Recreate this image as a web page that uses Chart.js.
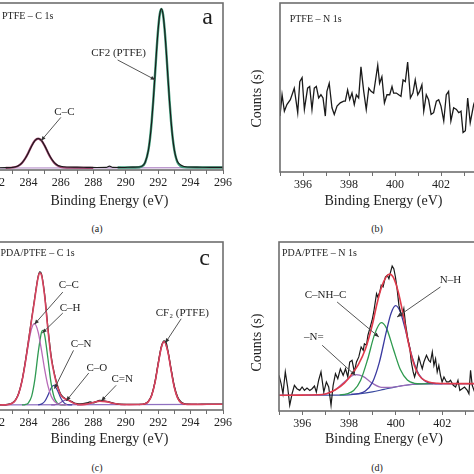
<!DOCTYPE html>
<html>
<head>
<meta charset="utf-8">
<script src="https://cdn.jsdelivr.net/npm/chart.js@4.4.0/dist/chart.umd.min.js"></script>
<style>
  html, body { margin: 0; padding: 0; background: #fff; }
  body { width: 474px; height: 474px; position: relative; overflow: hidden; font-family: 'Liberation Serif', serif; }
  .panel { position: absolute; }
  .cap { position: absolute; font-size: 10px; color: #222; transform: translate(-50%, -50%); }
</style>
</head>
<body>
<div class="panel" style="left:-54px;top:0;width:289px;height:210px"><canvas id="chartA"></canvas></div>
<div class="panel" style="left:249px;top:0;width:250px;height:210px"><canvas id="chartB"></canvas></div>
<div class="panel" style="left:-54px;top:239px;width:289px;height:209px"><canvas id="chartC"></canvas></div>
<div class="panel" style="left:249px;top:239px;width:252px;height:209px"><canvas id="chartD"></canvas></div>
<div class="cap" style="left:97px;top:228px">(a)</div>
<div class="cap" style="left:377px;top:228px">(b)</div>
<div class="cap" style="left:97px;top:467px">(c)</div>
<div class="cap" style="left:377px;top:467px">(d)</div>
<script>
// ── Panel (a): PTFE C 1s  [binding energy eV, counts a.u.] ──
const aSpectrum = [
  [282.0,1.3],[282.6,1.4],[283.0,1.5],[283.2,1.9],[283.4,2.7],[283.6,4.3],[283.8,6.9],[284.0,10.4],
  [284.2,14.4],[284.4,17.6],[284.6,18.9],[284.8,17.7],[285.0,14.6],[285.2,10.6],[285.4,7.0],[285.6,4.4],
  [285.8,2.9],[286.0,2.2],[286.4,1.8],[287.0,1.7],[287.6,1.6],[288.2,1.5],[288.8,1.6],[289.0,2.3],
  [289.2,1.6],[289.8,1.5],[290.4,1.7],[290.8,1.8],[291.0,2.3],[291.2,4.6],[291.4,11.9],[291.5,18.9],
  [291.6,28.8],[291.7,41.5],[291.8,56.1],[291.9,71.1],[292.0,84.2],[292.1,93.3],[292.2,96.5],[292.3,93.3],
  [292.4,84.2],[292.5,71.1],[292.6,56.1],[292.7,41.5],[292.8,28.8],[292.9,18.9],[293.0,11.9],[293.1,7.5],
  [293.2,5.0],[293.4,3.0],[293.6,2.1],[293.8,1.8],[294.4,1.7],[295.2,1.6],[296.0,1.6],
];
const aFitCC = [
  [282.6,1.3],[283.0,1.5],[283.2,1.8],[283.4,2.6],[283.6,4.2],[283.8,6.9],[284.0,10.5],[284.2,14.5],
  [284.4,17.6],[284.6,18.8],[284.8,17.6],[285.0,14.5],[285.2,10.5],[285.4,6.9],[285.6,4.2],[285.8,2.6],
  [286.0,1.8],[286.2,1.5],[286.6,1.35],[288.0,1.3],
];
const aFitCF2 = [
  [289.5,1.5],[290.6,1.5],[291.0,2.2],[291.2,4.5],[291.4,11.9],[291.5,18.9],[291.6,28.8],[291.7,41.5],
  [291.8,56.1],[291.9,71.1],[292.0,84.2],[292.1,93.3],[292.2,96.5],[292.3,93.3],[292.4,84.2],[292.5,71.1],
  [292.6,56.1],[292.7,41.5],[292.8,28.8],[292.9,18.9],[293.0,11.9],[293.1,7.3],[293.2,4.5],[293.4,2.2],
  [293.6,1.7],[294.4,1.5],[296.0,1.5],
];
const aBase = [[282.0,1.2],[296.0,1.4]];

// ── Panel (b): PTFE N 1s ──
const bSpectrum = [
  [395.0,33.1],[395.09,45.7],[395.19,36.0],[395.3,39.9],[395.45,42.8],[395.62,49.6],[395.77,35.1],[395.86,53.5],
  [395.96,55.8],[396.06,37.0],[396.2,49.6],[396.29,50.6],[396.39,37.0],[396.49,49.6],[396.58,50.6],[396.68,43.8],
  [396.78,45.7],[396.87,43.8],[396.97,33.1],[397.04,47.7],[397.14,52.5],[397.26,38.0],[397.36,34.1],[397.48,39.0],
  [397.62,40.9],[397.77,41.9],[397.84,41.9],[397.94,48.6],[398.03,42.8],[398.13,46.7],[398.23,39.9],[398.32,45.7],
  [398.42,43.8],[398.52,62.2],[398.64,47.7],[398.75,37.0],[398.86,49.6],[398.96,47.7],[399.07,46.7],[399.25,63.2],
  [399.33,52.5],[399.43,56.4],[399.54,40.9],[399.65,45.7],[399.77,45.7],[399.87,50.6],[399.94,46.7],[400.06,46.7],
  [400.16,45.7],[400.26,44.8],[400.35,54.5],[400.45,53.5],[400.55,65.1],[400.67,43.8],[400.78,46.7],[400.88,54.5],
  [400.99,45.7],[401.07,47.7],[401.17,51.6],[401.25,36.0],[401.36,45.7],[401.46,42.8],[401.57,34.1],[401.68,35.1],
  [401.8,41.9],[401.9,42.8],[402.0,39.0],[402.12,30.2],[402.23,45.7],[402.33,47.7],[402.43,30.2],[402.55,38.0],
  [402.67,37.0],[402.77,35.1],[402.87,36.0],[402.96,23.4],[403.06,24.4],[403.16,43.8],[403.27,29.2],[403.42,39.9],
  [403.55,45.0],[403.7,35.0],[403.85,42.0],[404.0,38.0],
];

// ── Panel (c): PDA/PTFE C 1s ──
const cSpectrum = [
  [282.0,3.3],[282.4,3.0],[282.8,3.5],[283.0,4.2],[283.2,6.0],[283.4,10.0],[283.6,17.3],[283.8,28.4],
  [284.0,41.2],[284.2,54.5],[284.4,67.5],[284.6,79.6],[284.7,82.3],[284.8,81.2],[285.0,68.8],[285.2,49.2],
  [285.4,32.3],[285.6,21.6],[285.8,14.3],[286.0,9.3],[286.2,7.3],[286.4,6.0],[286.6,5.4],[286.8,4.3],
  [287.0,3.8],[287.2,3.6],[287.6,4.2],[287.8,4.8],[288.0,4.3],[288.4,5.7],[288.8,5.2],[289.2,4.2],
  [289.6,3.5],[290.2,3.4],[290.8,3.3],[291.2,3.9],[291.4,5.3],[291.6,9.0],[291.8,16.6],[292.0,27.8],
  [292.2,38.0],[292.37,41.2],[292.5,40.0],[292.6,35.5],[292.8,24.5],[293.0,14.2],[293.2,7.9],[293.4,4.9],
  [293.6,3.9],[293.8,3.5],[294.4,3.4],[295.0,3.5],[296.0,3.5],
];
const cEnvelope = [
  [282.0,3.0],[282.4,3.05],[282.8,3.3],[283.0,4.0],[283.2,5.8],[283.4,9.8],[283.6,17.1],[283.8,27.8],
  [284.0,40.7],[284.2,53.9],[284.4,66.8],[284.6,79.0],[284.7,81.5],[284.8,80.5],[285.0,67.9],[285.2,48.0],
  [285.4,31.2],[285.6,21.0],[285.8,13.7],[286.0,8.8],[286.2,6.9],[286.4,6.2],[286.6,5.1],[286.8,4.0],
  [287.0,3.4],[287.2,3.2],[287.6,3.5],[288.0,4.45],[288.4,5.3],[288.8,5.0],[289.2,4.0],[289.6,3.4],
  [290.2,3.2],[290.8,3.25],[291.2,3.7],[291.4,5.0],[291.6,8.6],[291.8,16.1],[292.0,27.2],[292.2,37.3],
  [292.37,40.7],[292.6,34.7],[292.8,23.7],[293.0,13.4],[293.2,7.2],[293.4,4.4],[293.6,3.56],[293.8,3.35],
  [294.4,3.35],[295.0,3.4],[296.0,3.4],
];
const cFitCC = [
  [282.4,3.0],[282.8,3.3],[283.0,4.0],[283.2,5.8],[283.4,9.8],[283.6,17.1],[283.8,27.6],[284.0,39.4],
  [284.2,48.6],[284.37,51.4],[284.6,46.4],[284.8,35.9],[285.0,24.2],[285.2,14.5],[285.4,8.3],[285.6,5.1],
  [285.8,3.7],[286.0,3.2],[286.4,3.05],
];
const cFitCH = [
  [283.6,3.0],[283.8,3.2],[284.0,4.3],[284.2,8.3],[284.4,18.4],[284.6,34.0],[284.8,46.1],[284.88,47.4],
  [285.0,44.6],[285.2,30.8],[285.4,15.8],[285.6,7.1],[285.8,3.9],[286.0,3.1],[286.3,3.05],
];
const cFitCN = [
  [284.6,3.05],[284.8,3.5],[285.0,5.05],[285.2,8.7],[285.4,13.1],[285.56,14.7],[285.8,11.5],[286.0,7.0],
  [286.2,4.2],[286.4,3.2],[286.7,3.05],
];
const cFitCO = [
  [285.4,3.05],[285.6,3.1],[285.8,3.6],[286.0,4.5],[286.2,5.65],[286.35,6.0],[286.6,5.1],[286.8,4.0],
  [287.0,3.3],[287.2,3.05],
];
const cFitCeqN = [
  [287.0,3.1],[287.4,3.3],[287.8,4.0],[288.2,5.0],[288.5,5.35],[288.8,5.0],[289.2,4.0],[289.6,3.3],[290.0,3.15],
];
const cFitCF2 = [
  [290.8,3.25],[291.2,3.7],[291.4,5.0],[291.6,8.6],[291.8,16.1],[292.0,27.2],[292.2,37.3],[292.37,40.7],
  [292.6,34.7],[292.8,23.7],[293.0,13.4],[293.2,7.2],[293.4,4.4],[293.6,3.56],[293.8,3.35],[294.4,3.35],
];
const cBase = [[282.0,3.0],[296.0,3.4]];

// ── Panel (d): PDA/PTFE N 1s ──
const dSpectrum = [
  [395.0,21.1],[395.09,16.2],[395.17,10.2],[395.27,23.1],[395.37,14.2],[395.46,3.4],[395.56,10.2],[395.66,15.2],
  [395.77,13.2],[395.89,12.2],[395.99,14.2],[396.09,12.2],[396.2,13.6],[396.32,12.2],[396.42,13.2],[396.52,14.8],
  [396.6,11.2],[396.7,18.2],[396.8,23.1],[396.92,11.2],[397.03,17.2],[397.13,14.2],[397.23,3.4],[397.32,15.2],
  [397.42,22.1],[397.52,19.1],[397.63,25.0],[397.75,21.1],[397.85,25.0],[397.95,20.1],[398.03,29.0],[398.13,30.0],
  [398.23,23.1],[398.32,29.0],[398.42,32.0],[398.52,37.9],[398.61,35.9],[398.66,39.8],[398.75,38.9],[398.81,44.8],
  [398.89,48.7],[398.99,53.7],[399.06,58.6],[399.18,69.4],[399.23,67.5],[399.32,70.4],[399.38,74.4],[399.46,73.4],
  [399.56,79.3],[399.64,80.3],[399.71,78.3],[399.78,82.2],[399.85,85.8],[399.92,84.2],[399.99,79.3],[400.06,72.4],
  [400.14,62.5],[400.21,58.6],[400.28,56.6],[400.35,60.5],[400.42,51.7],[400.52,42.8],[400.61,36.9],[400.67,29.0],
  [400.75,23.1],[400.81,20.1],[400.89,24.1],[400.99,32.0],[401.07,28.0],[401.14,25.0],[401.21,29.0],[401.32,33.0],
  [401.42,30.0],[401.49,29.0],[401.57,34.9],[401.64,27.0],[401.71,30.9],[401.78,23.1],[401.85,27.0],[401.92,21.1],
  [401.99,17.2],[402.07,20.1],[402.18,17.2],[402.28,17.2],[402.35,18.2],[402.47,15.2],[402.57,14.2],[402.67,18.2],
  [402.75,12.2],[402.85,13.2],[402.95,14.2],[403.07,12.2],[403.14,10.2],[403.21,24.1],[403.28,15.2],[403.36,12.2],
  [403.5,16.0],[403.7,12.0],[403.9,14.0],[404.0,15.0],
];
const dEnvelope = [
  [395.0,9.3],[396.0,9.4],[396.6,9.6],[397.0,10.1],[397.4,12.4],[397.8,16.5],[398.1,21.5],[398.4,27.5],
  [398.7,36.5],[399.0,51.0],[399.2,63.5],[399.4,73.5],[399.6,79.5],[399.75,81.0],[399.9,79.0],[400.1,71.0],
  [400.3,58.5],[400.5,43.5],[400.7,31.5],[400.9,23.5],[401.1,19.5],[401.4,17.2],[401.8,16.4],[402.5,16.2],[404.0,16.2],
];
const dFitNimine = [
  [395.0,9.3],[396.6,9.5],[397.0,10.1],[397.4,12.4],[397.8,17.2],[398.1,20.6],[398.3,21.5],[398.6,20.5],
  [399.0,16.4],[399.4,14.0],[399.8,14.0],[400.4,15.2],[401.0,16.0],[404.0,16.2],
];
const dFitCNHC = [
  [397.6,9.5],[397.9,10.1],[398.2,12.1],[398.5,18.2],[398.8,30.6],[399.1,45.5],[399.38,52.3],[399.6,49.2],
  [399.9,36.7],[400.2,24.5],[400.5,18.3],[400.8,16.4],[401.1,16.1],[401.6,16.2],
];
const dFitNH = [
  [398.1,9.9],[398.4,10.3],[398.7,11.8],[399.0,16.8],[399.3,28.8],[399.6,47.0],[399.8,57.7],[400.0,62.3],
  [400.2,58.6],[400.4,49.0],[400.7,32.3],[401.0,21.5],[401.3,17.3],[401.6,16.4],[402.0,16.2],
];
const dBase = [
  [395.0,9.3],[397.5,9.4],[398.0,9.6],[398.5,10.2],[399.0,11.3],[399.5,12.8],[400.0,14.3],[400.5,15.4],
  [401.0,16.0],[401.5,16.2],[404.0,16.2],
];

// ── Labels: text, anchor [eV, counts], optional leader line ──
const aNotes = [
  { text: 'PTFE – C 1s', at: [282.37, 92.2], align: 'left', size: 10 },
  { text: 'a', at: [295.05, 91], size: 24 },
  { text: 'CF2 (PTFE)', at: [289.56, 70], from: [289.5, 65.9], to: [291.82, 54] },
  { text: 'C–C', at: [286.22, 34.9], from: [286.0, 31.5], to: [284.78, 17.5] },
];
const bNotes = [
  { text: 'PTFE – N 1s', at: [395.42, 90.3], align: 'left', size: 10 },
];
const cNotes = [
  { text: 'PDA/PTFE – C 1s', at: [282.28, 93], align: 'left', size: 10 },
  { text: 'c', at: [294.86, 90], size: 24 },
  { text: 'C–C', at: [286.49, 74.2], from: [286.12, 70.2], to: [284.37, 51] },
  { text: 'C–H', at: [286.57, 60.9], from: [286.12, 57.7], to: [284.85, 45.8] },
  { text: 'C–N', at: [287.25, 39.5], from: [286.78, 35.5], to: [285.6, 12.7] },
  { text: 'C–O', at: [288.22, 25], from: [287.72, 22], to: [286.33, 5.4] },
  { text: 'C=N', at: [289.78, 18.6], from: [289.41, 14.7], to: [288.49, 5.4] },
  { text: 'CF₂ (PTFE)', at: [293.49, 57.7], from: [293.42, 54.3], to: [292.44, 39.9] },
];
const dNotes = [
  { text: 'PDA/PTFE – N 1s', at: [395.13, 93.1], align: 'left', size: 10 },
  { text: 'C–NH–C', at: [396.99, 68.4], from: [397.49, 64.5], to: [399.28, 43.8] },
  { text: 'N–H', at: [402.35, 77.3], from: [401.92, 73.4], to: [400.06, 55.6] },
  { text: '–N=', at: [396.49, 43.8], from: [396.85, 38.9], to: [398.27, 21.1] },
];

const FONT = "'Liberation Serif', 'Times New Roman', serif";

// frame + y title + leader lines + labels
const notesPlugin = {
  id: 'notes',
  afterDatasetsDraw(chart, args, opts) {
    const { ctx, chartArea: ca, scales: { x, y } } = chart;
    ctx.save();
    ctx.strokeStyle = '#6e6e6e';
    ctx.lineWidth = 1.6;
    ctx.strokeRect(ca.left, ca.top, ca.width, ca.height);

    // y title sits a little below the middle of the frame in the original
    ctx.save();
    ctx.translate(y.left + 8.4, (ca.top + ca.bottom) / 2 + opts.yTitleShift);
    ctx.rotate(-Math.PI / 2);
    ctx.fillStyle = '#222';
    ctx.font = `14px ${FONT}`;
    ctx.textAlign = 'center';
    ctx.textBaseline = 'middle';
    ctx.fillText('Counts (s)', 0, 0);
    ctx.restore();

    (opts.items || []).forEach((n) => {
      if (n.from) {
        const x1 = x.getPixelForValue(n.from[0]), y1 = y.getPixelForValue(n.from[1]);
        const x2 = x.getPixelForValue(n.to[0]), y2 = y.getPixelForValue(n.to[1]);
        ctx.strokeStyle = '#555';
        ctx.lineWidth = 1;
        ctx.beginPath();
        ctx.moveTo(x1, y1);
        ctx.lineTo(x2, y2);
        ctx.stroke();
        const ang = Math.atan2(y2 - y1, x2 - x1);
        ctx.fillStyle = '#333';
        ctx.beginPath();
        ctx.moveTo(x2, y2);
        ctx.lineTo(x2 - 5 * Math.cos(ang - 0.4), y2 - 5 * Math.sin(ang - 0.4));
        ctx.lineTo(x2 - 5 * Math.cos(ang + 0.4), y2 - 5 * Math.sin(ang + 0.4));
        ctx.closePath();
        ctx.fill();
      }
      ctx.fillStyle = '#1e1e1e';
      ctx.font = `${n.size || 11}px ${FONT}`;
      ctx.textAlign = n.align || 'center';
      ctx.textBaseline = 'middle';
      ctx.fillText(n.text, x.getPixelForValue(n.at[0]), y.getPixelForValue(n.at[1]));
    });
    ctx.restore();
  },
};

function series(points, color, width, order, smooth = true) {
  return {
    data: points.map(([x, y]) => ({ x, y })),
    borderColor: color,
    borderWidth: width,
    pointRadius: 0,
    fill: false,
    order,
    cubicInterpolationMode: smooth ? 'monotone' : 'default',
    tension: 0,
  };
}

function makePanel(id, datasets, cfg) {
  return new Chart(document.getElementById(id), {
    type: 'line',
    data: { datasets },
    plugins: [notesPlugin],
    options: {
      responsive: true,
      maintainAspectRatio: false,
      animation: false,
      layout: { padding: { top: 3, right: 12, bottom: 0, left: 0 } },
      plugins: {
        legend: { display: false },
        tooltip: { enabled: false },
        notes: { items: cfg.notes, yTitleShift: cfg.yShift },
      },
      scales: {
        x: {
          type: 'linear',
          min: cfg.xMin,
          max: cfg.xMax,
          afterFit: (s) => { s.height = cfg.xh; },
          border: { display: false },
          grid: { drawOnChartArea: false, drawTicks: true, tickLength: 4, color: '#6e6e6e', lineWidth: 1 },
          ticks: {
            stepSize: 1,
            autoSkip: false,
            maxRotation: 0,
            padding: 2,
            color: '#222',
            font: { family: FONT, size: 12 },
            callback: (v) => (v % 2 === 0 ? v : ''),
          },
          title: {
            display: true,
            text: 'Binding Energy (eV)',
            color: '#222',
            font: { family: FONT, size: 14 },
            padding: { top: 0, bottom: 0 },
          },
        },
        y: {
          min: 0,
          max: 100,
          afterFit: (s) => { s.width = cfg.yw; },
          border: { display: false },
          grid: { display: false },
          ticks: { display: false },
        },
      },
    },
  });
}

// ── Build panels ──
makePanel('chartA', [
  series(aBase, '#b48cc8', 1.2, 5),
  series(aFitCC, '#a0406e', 2.2, 4),
  series(aFitCF2, '#3c9a78', 2.4, 3),
  series(aSpectrum, '#1a1a1a', 1.1, 1),
], { xMin: 282, xMax: 296, xh: 40, yw: 50, yShift: 10, notes: aNotes });

makePanel('chartB', [
  series(bSpectrum, '#1a1a1a', 1.3, 1, false),
], { xMin: 395, xMax: 404, xh: 38, yw: 31, yShift: 11, notes: bNotes });

makePanel('chartC', [
  series(cBase, '#9070c0', 1.2, 9),
  series(cFitCeqN, '#a03050', 1.2, 8),
  series(cFitCO, '#8a5ab0', 1.2, 7),
  series(cFitCN, '#3c3ca0', 1.2, 6),
  series(cFitCH, '#2f9a52', 1.3, 5),
  series(cFitCC, '#b86bb8', 1.3, 4),
  series(cFitCF2, '#9a2040', 1.3, 3),
  series(cSpectrum, '#1a1a1a', 1.2, 2),
  series(cEnvelope, '#d8435e', 1.6, 1),
], { xMin: 282, xMax: 296, xh: 38, yw: 50, yShift: 10, notes: cNotes });

makePanel('chartD', [
  series(dBase, '#3a4aa0', 1.2, 6),
  series(dFitNimine, '#9a6ab8', 1.2, 5),
  series(dFitCNHC, '#2e9a4e', 1.3, 4),
  series(dFitNH, '#3a3aa0', 1.3, 3),
  series(dSpectrum, '#1a1a1a', 1.2, 2, false),
  series(dEnvelope, '#e03a4a', 1.6, 1),
], { xMin: 395, xMax: 404, xh: 37, yw: 30, yShift: 16, notes: dNotes });
</script>
</body>
</html>
